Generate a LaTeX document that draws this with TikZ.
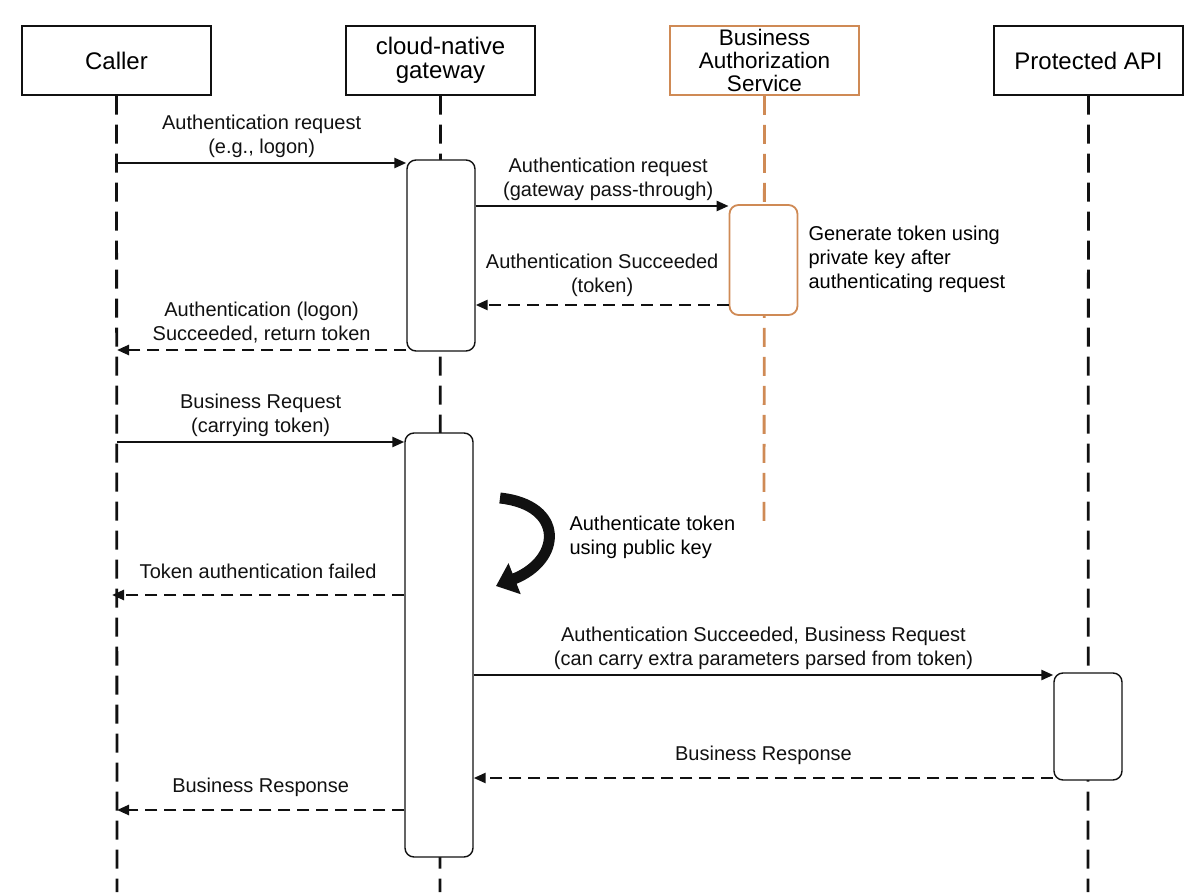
\documentclass[tikz,border=0pt]{standalone}
\usepackage{fontspec}
\setmainfont{Liberation Sans}
\usepackage{xcolor}
\definecolor{Ink}{HTML}{111111}
\definecolor{BizOrange}{HTML}{CF8A55}
\usepackage{tikz}
\usetikzlibrary{arrows.meta, positioning, backgrounds}

\begin{document}
\begin{tikzpicture}[x=1pt, y=-1pt, >={Triangle[length=12pt,width=10pt]},
  head/.style={rectangle, draw=Ink, line width=1.2pt, fill=white,
               minimum width=189pt, minimum height=69pt, align=center,
               font=\fontsize{24}{24}\selectfont},
  act/.style={rectangle, rounded corners=9pt, draw=Ink, line width=1.4pt,
              fill=white, minimum width=68pt},
  life/.style={line width=2.8pt, color=Ink, dash pattern=on 19pt off 10pt},
  msg/.style={->, line width=2.5pt, color=Ink},
  reply/.style={msg, dash pattern=on 12pt off 7pt},
  lbl/.style={font=\fontsize{20}{24}\selectfont, align=center, inner sep=4pt},
  note/.style={font=\fontsize{20}{24}\selectfont, align=left, anchor=west}
]
\useasboundingbox (0,0) rectangle (1200,896);

%% ---- Participants ----
\node[head] (caller)  at (116.5, 60.5) {Caller};
\node[head] (gateway) at (440.5, 60.5) {cloud-native\\gateway};
\node[head, draw=BizOrange, line width=1.6pt, font=\fontsize{22.5}{23}\selectfont]
  (authsvc) at (764.5, 60.5) {Business\\Authorization\\Service};
\node[head] (api)     at (1088.5, 60.5) {Protected API};

%% ---- Lifeline ends ----
\coordinate (callerEnd)  at (117, 892);
\coordinate (gatewayEnd) at (440, 892);
\coordinate (authsvcEnd) at (764, 526);
\coordinate (apiEnd)     at (1088, 892);

%% ---- Activations ----
\node[act, minimum height=191pt] (gwA) at (441, 255.5) {};
\node[act, draw=BizOrange, line width=1.8pt, minimum height=110pt] (svcA) at (763.5, 260) {};
\node[act, minimum height=424pt] (gwB) at (439, 645) {};
\node[act, minimum height=107pt] (apiA) at (1088, 726.5) {};

%% Lifelines behind everything
\begin{scope}[on background layer]
  \draw[life] (caller.south) -- (callerEnd);
  \draw[life] (gateway.south) -- (gatewayEnd);
  \draw[life, color=BizOrange] (authsvc.south) -- (authsvcEnd);
  \draw[life] (api.south) -- (apiEnd);
\end{scope}

%% ---- Points on the caller lifeline ----
\coordinate (c1) at (117, 163);
\coordinate (c2) at (117, 350);
\coordinate (c3) at (117, 442);
\coordinate (c4) at (112, 595);
\coordinate (c5) at (117, 810);

%% ---- Messages ----
\draw[msg] (c1) -- node[lbl, above]{Authentication request\\(e.g., logon)} (c1 -| gwA.west);
\draw[msg] (gwA.east |- 0,206) -- node[lbl, above, xshift=6pt]{Authentication request\\(gateway pass-through)} (svcA.west |- 0,206);
\draw[reply] (svcA.west |- 0,305) -- node[lbl, above, inner sep=7pt]{Authentication Succeeded\\(token)} (gwA.east |- 0,305);
\draw[reply] (gwA.west |- c2) -- node[lbl, above, inner sep=6pt]{Authentication (logon)\\Succeeded, return token} (c2);
\draw[msg] (c3) -- node[lbl, above]{Business Request\\(carrying token)} (c3 -| gwB.west);
\draw[reply] (gwB.west |- c4) -- node[lbl, above, inner sep=15pt]{Token authentication failed} (c4);
\draw[msg] (gwB.east |- 0,675) -- node[lbl, above]{Authentication Succeeded, Business Request\\(can carry extra parameters parsed from token)} (apiA.west |- 0,675);
\draw[reply] (apiA.west |- 0,778) -- node[lbl, above, inner sep=12pt]{Business Response} (gwB.east |- 0,778);
\draw[reply] (gwB.west |- c5) -- node[lbl, above, inner sep=12pt]{Business Response} (c5);

%% ---- Notes ----
\node[note] (genNote) at (805, 259) {Generate token using\\private key after\\authenticating request};
\node[note] (checkNote) at (566, 537) {Authenticate token\\using public key};

%% Self check on the gateway
\coordinate (selfStart) at (500, 498);
\coordinate (selfTip)   at (496, 586);
\draw[line width=11pt, color=Ink, -{Triangle[length=20pt,width=32pt]}]
  (selfStart) .. controls (565, 505) and (562, 560) .. (selfTip);

\end{tikzpicture}
\end{document}
